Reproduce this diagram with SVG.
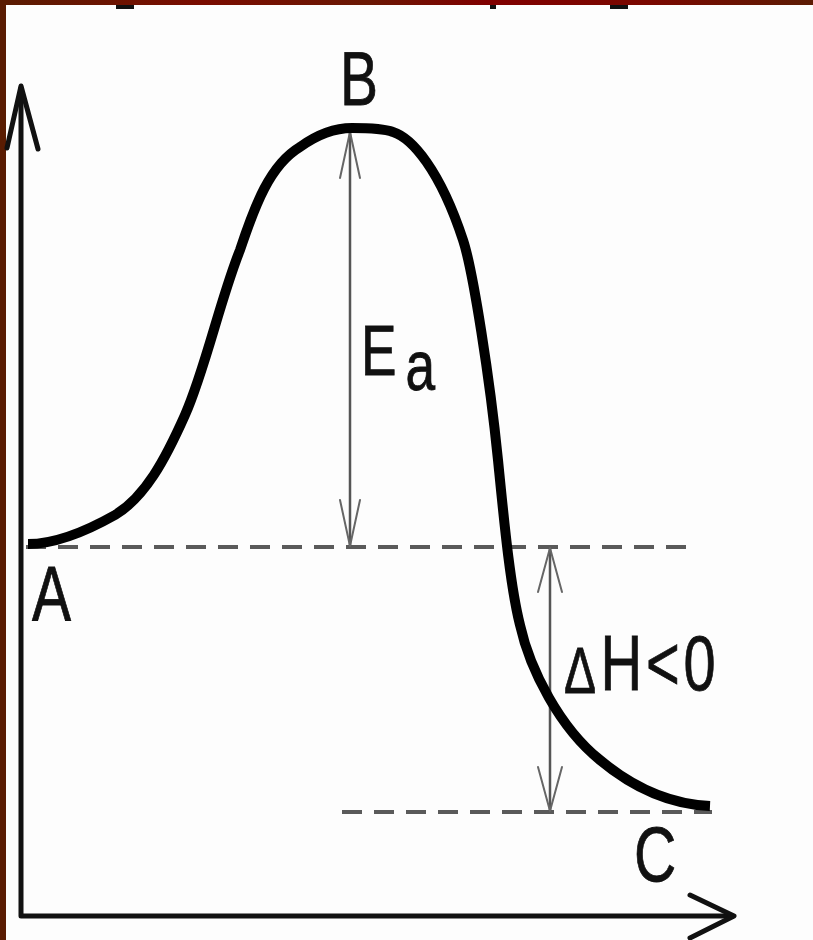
<svg xmlns="http://www.w3.org/2000/svg" width="813" height="940" viewBox="0 0 813 940">
<defs>
<linearGradient id="topband" x1="0" y1="0" x2="1" y2="0">
<stop offset="0" stop-color="#5a1c02"/>
<stop offset="0.25" stop-color="#7a0c00"/>
<stop offset="0.45" stop-color="#6a1804"/>
<stop offset="0.6" stop-color="#800000"/>
<stop offset="0.8" stop-color="#7a0800"/>
<stop offset="1" stop-color="#5c1c04"/>
</linearGradient>
<style>
.lbl{font-family:"Liberation Sans",Arial,sans-serif;fill:#111;stroke:#111;stroke-width:0.8;}
.axis{stroke:#111;stroke-width:5;fill:none;stroke-linecap:round;stroke-linejoin:round;}
.dash{stroke:#5a5a5a;stroke-width:4;stroke-dasharray:20 12;fill:none;}
.dim{stroke:#555;stroke-width:2.5;fill:none;}
.head{stroke:#666;stroke-width:2;fill:none;stroke-linecap:round;stroke-linejoin:round;}
.curve{stroke:#000;stroke-width:10;fill:none;stroke-linejoin:round;}
</style>
</defs>
<rect x="0" y="0" width="813" height="940" fill="#fdfdfd"/>
<rect x="0" y="0" width="813" height="5" fill="url(#topband)"/>
<rect x="0" y="0" width="6" height="940" fill="#5a1c02"/>
<g id="top-fragments" fill="#111">
<rect x="116" y="5" width="18" height="4"/>
<rect x="490" y="5" width="6" height="4"/>
<rect x="610" y="5" width="18" height="4"/>
</g>
<g id="connectors">
<g id="axes">
<path class="axis" d="M21,88 L21,916 L731,916"/>
<path class="axis" d="M7,148 L21,86 L38,149"/>
<path class="axis" d="M690,895 L734,916 L690,938"/>
</g>
<line class="dash" x1="26" y1="547" x2="688" y2="547"/>
<line class="dash" x1="342" y1="812" x2="712" y2="812"/>
<g id="Ea-arrow">
<line class="dim" x1="350" y1="132" x2="350" y2="546"/>
<path class="head" d="M340,178 L350,132 L360,178"/>
<path class="head" d="M340,500 L350,546 L360,500"/>
</g>
<g id="dH-arrow">
<line class="dim" x1="550" y1="548" x2="550" y2="811"/>
<path class="head" d="M538,592 L550,548 L562,592"/>
<path class="head" d="M538,767 L550,811 L562,767"/>
</g>
</g>
<g id="curve">
<path class="curve" d="M28,544 C55,544 85,532 115,515 C145,497 165,460 185,415 C205,370 220,300 240,250 C255,205 270,165 300,147 C318,134 335,128 352,128 C370,128 385,129 393,132 C412,138 440,170 463,240 C473,270 490,380 498,460 C504,520 510,585 520,625 C530,670 560,728 600,760 C630,785 665,804 710,806"/>
</g>
<g id="A"><text class="lbl" font-size="77" transform="translate(32,621) scale(0.76,1)">A</text></g>
<g id="B"><text class="lbl" font-size="76" transform="translate(340,105) scale(0.75,1)">B</text></g>
<g id="C"><text class="lbl" font-size="77" transform="translate(634,881) scale(0.76,1)">C</text></g>
<g id="Ea"><text class="lbl" font-size="71" transform="translate(361,375) scale(0.75,1)">E<tspan dx="12" dy="15">a</tspan></text></g>
<g id="dH"><text class="lbl" font-size="77" transform="translate(564,690) scale(0.75,1)"><tspan font-size="64" dy="3">Δ</tspan><tspan dx="6" dy="-3" letter-spacing="5">H&lt;0</tspan></text></g>
</svg>
